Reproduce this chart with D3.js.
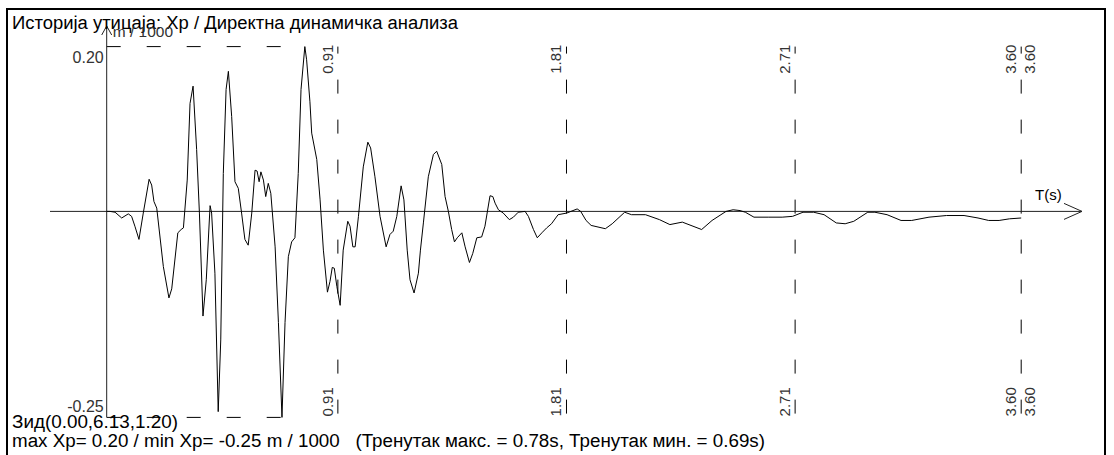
<!DOCTYPE html>
<html>
<head>
<meta charset="utf-8">
<script src="https://cdn.jsdelivr.net/npm/d3@7"></script>
<style>
    body { margin: 0; background: #fff; }
    text { font-family: 'Liberation Sans', Arial, sans-serif; white-space: pre; }
</style>
</head>
<body>
<svg id="chart"></svg>
<script>
// time history of Xp (m / 1000)
const times = [0, 0.013, 0.033, 0.059, 0.085, 0.098, 0.111, 0.127, 0.144, 0.167, 0.177, 0.186, 0.197,
    0.223, 0.245, 0.256, 0.280, 0.293, 0.302, 0.317, 0.328, 0.340, 0.354, 0.365, 0.379, 0.392, 0.407,
    0.413, 0.426, 0.439, 0.449, 0.459, 0.470, 0.479, 0.492, 0.505, 0.518, 0.531, 0.544, 0.557, 0.571,
    0.584, 0.592, 0.600, 0.607, 0.617, 0.626, 0.636, 0.646, 0.663, 0.676, 0.690, 0.702, 0.715, 0.728,
    0.741, 0.754, 0.765, 0.780, 0.787, 0.800, 0.807, 0.827, 0.840, 0.853, 0.869, 0.879, 0.888, 0.896,
    0.906, 0.919, 0.931, 0.949, 0.958, 0.969, 0.978, 0.991, 1.010, 1.028, 1.039, 1.056, 1.076, 1.100,
    1.115, 1.128, 1.142, 1.159, 1.170, 1.183, 1.194, 1.210, 1.227, 1.235, 1.247, 1.266, 1.286, 1.299,
    1.319, 1.332, 1.345, 1.358, 1.369, 1.380, 1.398, 1.411, 1.428, 1.441, 1.457, 1.476, 1.489, 1.509,
    1.520, 1.529, 1.542, 1.561, 1.585, 1.601, 1.620, 1.647, 1.660, 1.680, 1.695, 1.713, 1.732, 1.751,
    1.777, 1.811, 1.852, 1.866, 1.887, 1.907, 1.963, 1.990, 2.039, 2.066, 2.121, 2.176, 2.217, 2.266,
    2.342, 2.383, 2.438, 2.466, 2.493, 2.514, 2.548, 2.604, 2.659, 2.700, 2.741, 2.783, 2.824, 2.872,
    2.907, 2.941, 2.996, 3.024, 3.072, 3.127, 3.169, 3.237, 3.306, 3.375, 3.430, 3.472, 3.513, 3.554, 3.600];
const values = [0, 0, -0.001, -0.008, -0.003, -0.006, -0.018, -0.034, -0.002, 0.039, 0.032, 0.012, 0.004,
    -0.067, -0.105, -0.094, -0.026, -0.022, -0.020, 0.038, 0.131, 0.152, 0.075, -0.002, -0.127, -0.083, 0.007,
    -0.002, -0.075, -0.243, -0.156, 0.046, 0.148, 0.170, 0.115, 0.036, 0.028, -0.002, -0.034, -0.041, -0.002,
    0.050, 0.049, 0.036, 0.048, 0.038, 0.018, 0.034, 0.022, -0.043, -0.135, -0.250, -0.135, -0.055, -0.037,
    -0.032, 0.046, 0.148, 0.200, 0.184, 0.133, 0.095, 0.063, 0.014, -0.047, -0.098, -0.085, -0.068, -0.069,
    -0.091, -0.114, -0.047, -0.012, -0.018, -0.043, -0.043, -0.006, 0.054, 0.084, 0.077, 0.042, -0.006, -0.043,
    -0.028, -0.024, -0.006, 0.031, 0.014, -0.047, -0.083, -0.099, -0.075, -0.047, -0.013, 0.042, 0.069, 0.073,
    0.057, 0.018, 0.000, -0.022, -0.037, -0.032, -0.026, -0.043, -0.062, -0.051, -0.032, -0.031, -0.018, 0.019,
    0.018, 0.010, 0.002, -0.002, -0.010, -0.007, -0.001, 0.000, -0.006, -0.022, -0.032, -0.026, -0.020, -0.015,
    -0.004, -0.002, 0.003, 0.000, -0.011, -0.017, -0.021, -0.015, -0.001, -0.004, -0.004, -0.010, -0.016, -0.013,
    -0.022, -0.011, 0.000, 0.002, 0.001, -0.001, -0.007, -0.007, -0.007, -0.006, -0.001, -0.001, -0.004, -0.014,
    -0.015, -0.012, -0.001, -0.001, -0.004, -0.011, -0.011, -0.007, -0.005, -0.005, -0.008, -0.011, -0.011, -0.009, -0.008];

const gridTimes = [0.91, 1.81, 2.71, 3.60];
const yTicks = [0.20, -0.25];
const maxT = 0.78, maxV = 0.20;
const minT = 0.69, minV = -0.25;
const endT = 3.60;

const title = 'Историја утицаја: Xp / Директна динамичка анализа';
const yUnit = 'm / 1000';
const xUnit = 'T(s)';
const wallLabel = 'Зид(0.00,6.13,1.20)';
const summary = 'max Xp= 0.20 / min Xp= -0.25 m / 1000   (Тренутак макс. = 0.78s, Тренутак мин. = 0.69s)';

const width = 1114;
const height = 455;
const fmt = d => d3.format('.2f')(d).replace('\u2212', '-');

const svg = d3.select('#chart')
    .attr('width', width)
    .attr('height', height);

const x = d3.scaleLinear().domain([0, endT]).range([106.7, 1021.2]);
const y = d3.scaleLinear().domain([minV, maxV]).range([417.4, 46.6]);

// frame
svg.append('rect')
    .attr('x', 7).attr('y', 9)
    .attr('width', 1098).attr('height', 470)
    .attr('fill', 'none')
    .attr('stroke', '#000')
    .attr('stroke-width', 2);

// dashed lines at max / min
const dashed = svg.append('g')
    .attr('stroke', '#000')
    .attr('stroke-width', 1)
    .attr('stroke-dasharray', '14,26');

dashed.append('line')
    .attr('x1', x(0)).attr('x2', x(maxT))
    .attr('y1', y(maxV)).attr('y2', y(maxV));
dashed.append('line')
    .attr('x1', x(0)).attr('x2', x(minT))
    .attr('y1', y(minV)).attr('y2', y(minV));

dashed.selectAll('.grid').data(gridTimes)
    .enter()
    .append('line')
    .attr('class', 'grid')
    .attr('x1', d => x(d)).attr('x2', d => x(d))
    .attr('y1', y(maxV)).attr('y2', y(minV))
    .attr('stroke-dashoffset', 7);

// grid labels, top and bottom
const gridLabels = svg.append('g')
    .attr('font-size', 15)
    .attr('fill', '#333');

gridLabels.selectAll('.top').data(gridTimes)
    .enter()
    .append('text')
    .attr('class', 'top')
    .attr('transform', d => `translate(${x(d) - 5},${y(maxV) - 2}) rotate(-90)`)
    .attr('text-anchor', 'end')
    .text(d => fmt(d));

gridLabels.selectAll('.bottom').data(gridTimes)
    .enter()
    .append('text')
    .attr('class', 'bottom')
    .attr('transform', d => `translate(${x(d) - 5},${y(minV) - 1}) rotate(-90)`)
    .attr('text-anchor', 'start')
    .text(d => fmt(d));

// end time label right of the last line
gridLabels.append('text')
    .attr('transform', `translate(${x(endT) + 13.5},${y(maxV) - 2}) rotate(-90)`)
    .attr('text-anchor', 'end')
    .text(fmt(endT));
gridLabels.append('text')
    .attr('transform', `translate(${x(endT) + 13.5},${y(minV) - 1}) rotate(-90)`)
    .attr('text-anchor', 'start')
    .text(fmt(endT));

// axes
const axes = svg.append('g')
    .attr('stroke', '#222')
    .attr('stroke-width', 1)
    .attr('fill', 'none');

axes.append('line')
    .attr('x1', 50).attr('x2', 1082)
    .attr('y1', y(0)).attr('y2', y(0));
axes.append('path')
    .attr('d', `M1064,${y(0) - 8}L1082,${y(0)}L1064,${y(0) + 8}`);

axes.append('line')
    .attr('x1', x(0)).attr('x2', x(0))
    .attr('y1', y(minV)).attr('y2', 26);
axes.append('path')
    .attr('d', `M${x(0) - 5},35L${x(0)},26L${x(0) + 5},35`);

svg.append('g')
    .attr('font-size', 16)
    .attr('fill', '#333')
    .attr('text-anchor', 'end')
    .selectAll('text').data(yTicks)
    .enter()
    .append('text')
    .attr('x', x(0) - 3)
    .attr('y', d => d > 0 ? y(d) + 16 : y(d) - 5)
    .text(d => fmt(d));

// response line
const line = d3.line()
    .x(d => x(d[0]))
    .y(d => y(d[1]));

svg.append('path')
    .datum(times.map((t, i) => [t, values[i]]))
    .attr('fill', 'none')
    .attr('stroke', '#000')
    .attr('stroke-width', 1)
    .attr('d', line);

// texts
svg.append('text')
    .attr('x', 12).attr('y', 29)
    .attr('font-size', 18)
    .attr('textLength', 446)
    .attr('lengthAdjust', 'spacingAndGlyphs')
    .text(title);

svg.append('text')
    .attr('x', x(0) + 6).attr('y', 37)
    .attr('font-size', 15.5)
    .attr('fill', '#333')
    .text(yUnit);

svg.append('text')
    .attr('x', 1035).attr('y', 200)
    .attr('font-size', 15)
    .text(xUnit);

svg.append('text')
    .attr('x', 12).attr('y', 428)
    .attr('font-size', 18)
    .attr('textLength', 166)
    .attr('lengthAdjust', 'spacingAndGlyphs')
    .text(wallLabel);

svg.append('text')
    .attr('x', 12).attr('y', 447)
    .attr('font-size', 18)
    .attr('textLength', 753)
    .attr('lengthAdjust', 'spacingAndGlyphs')
    .text(summary);
</script>
</body>
</html>
